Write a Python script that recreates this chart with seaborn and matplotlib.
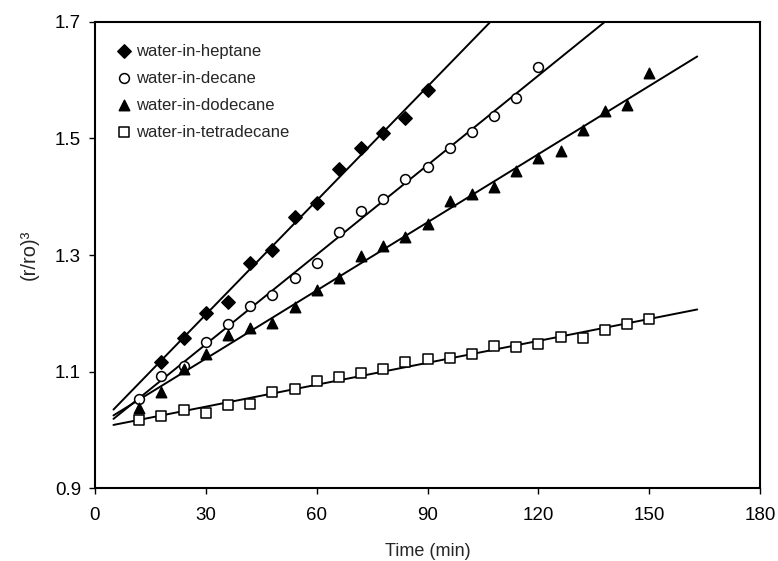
import numpy as np
import pandas as pd
import matplotlib
matplotlib.use("Agg")
import matplotlib.pyplot as plt
import seaborn as sns

# ---- data ----
t_heptane = [18, 24, 30, 36, 42, 48, 54, 60, 66, 72, 78, 84, 90]
y_heptane = [1.117, 1.158, 1.201, 1.219, 1.286, 1.309, 1.365, 1.390, 1.448,
             1.484, 1.509, 1.536, 1.584]

t_decane = [12, 18, 24, 30, 36, 42, 48, 54, 60, 66, 72, 78, 84, 90, 96, 102,
            108, 114, 120]
y_decane = [1.053, 1.093, 1.109, 1.151, 1.182, 1.212, 1.231, 1.260, 1.286,
            1.339, 1.376, 1.396, 1.430, 1.451, 1.483, 1.511, 1.539, 1.570, 1.622]

t_dodecane = [12, 18, 24, 30, 36, 42, 48, 54, 60, 66, 72, 78, 84, 90, 96, 102,
              108, 114, 120, 126, 132, 138, 144, 150]
y_dodecane = [1.037, 1.064, 1.105, 1.130, 1.163, 1.174, 1.184, 1.211, 1.240,
              1.261, 1.298, 1.315, 1.331, 1.353, 1.393, 1.405, 1.417, 1.444,
              1.467, 1.479, 1.515, 1.548, 1.558, 1.612]

t_tetradecane = [12, 18, 24, 30, 36, 42, 48, 54, 60, 66, 72, 78, 84, 90, 96,
                 102, 108, 114, 120, 126, 132, 138, 144, 150]
y_tetradecane = [1.016, 1.024, 1.034, 1.029, 1.042, 1.045, 1.065, 1.070, 1.084,
                 1.091, 1.097, 1.104, 1.116, 1.121, 1.124, 1.130, 1.144, 1.142,
                 1.148, 1.159, 1.158, 1.172, 1.182, 1.190]

labels = ["water-in-heptane", "water-in-decane", "water-in-dodecane",
          "water-in-tetradecane"]
fit_range = [5, 163]

x_ticks = [0, 30, 60, 90, 120, 150, 180]
y_ticks = [0.9, 1.1, 1.3, 1.5, 1.7]

# ---- style ----
sns.set_style("ticks")
plt.rcParams["font.family"] = ["Liberation Sans", "DejaVu Sans"]

fig = plt.figure(figsize=(7.78, 5.61), dpi=100)
ax = fig.add_axes([0.1221, 0.1301, 0.8548, 0.8307])

series = [
    (t_heptane, y_heptane, "D", "black", 46),
    (t_decane, y_decane, "o", "white", 50),
    (t_dodecane, y_dodecane, "^", "black", 56),
    (t_tetradecane, y_tetradecane, "s", "white", 46),
]

for (t, y, m, fc, s), lab in zip(series, labels):
    df = pd.DataFrame({"t": t, "y": y})
    sns.scatterplot(data=df, x="t", y="y", marker=m, s=s, color=fc,
                    edgecolor="black", linewidth=1.1, ax=ax, label=lab,
                    zorder=3, clip_on=False)
    coef = np.polyfit(t, y, 1)
    lx = np.array(fit_range, dtype=float)
    sns.lineplot(x=lx, y=np.polyval(coef, lx), color="black", lw=1.4,
                 ax=ax, zorder=2, legend=False)

ax.set_xlim(0, 180)
ax.set_ylim(0.9, 1.7)
ax.set_xticks(x_ticks)
ax.set_yticks(y_ticks)
ax.set_yticklabels([f"{v:.1f}" for v in y_ticks])
ax.tick_params(axis="both", direction="out", length=4, width=1,
               labelsize=13.5, colors="black")
ax.tick_params(axis="x", pad=10)
ax.tick_params(axis="y", pad=6)
for sp in ax.spines.values():
    sp.set_visible(True)
    sp.set_linewidth(1.5)
    sp.set_color("black")

ax.set_xlabel("Time (min)", fontsize=13, labelpad=13)
ax.set_ylabel("(r/ro)\u00b3", fontsize=14.5, labelpad=12)

leg = ax.legend(loc="upper left", bbox_to_anchor=(0.024, 0.968),
                frameon=False, fontsize=12, handlelength=0.8,
                handletextpad=0.3, labelspacing=0.72, borderaxespad=0)

fig.savefig("out.png", dpi=100)
